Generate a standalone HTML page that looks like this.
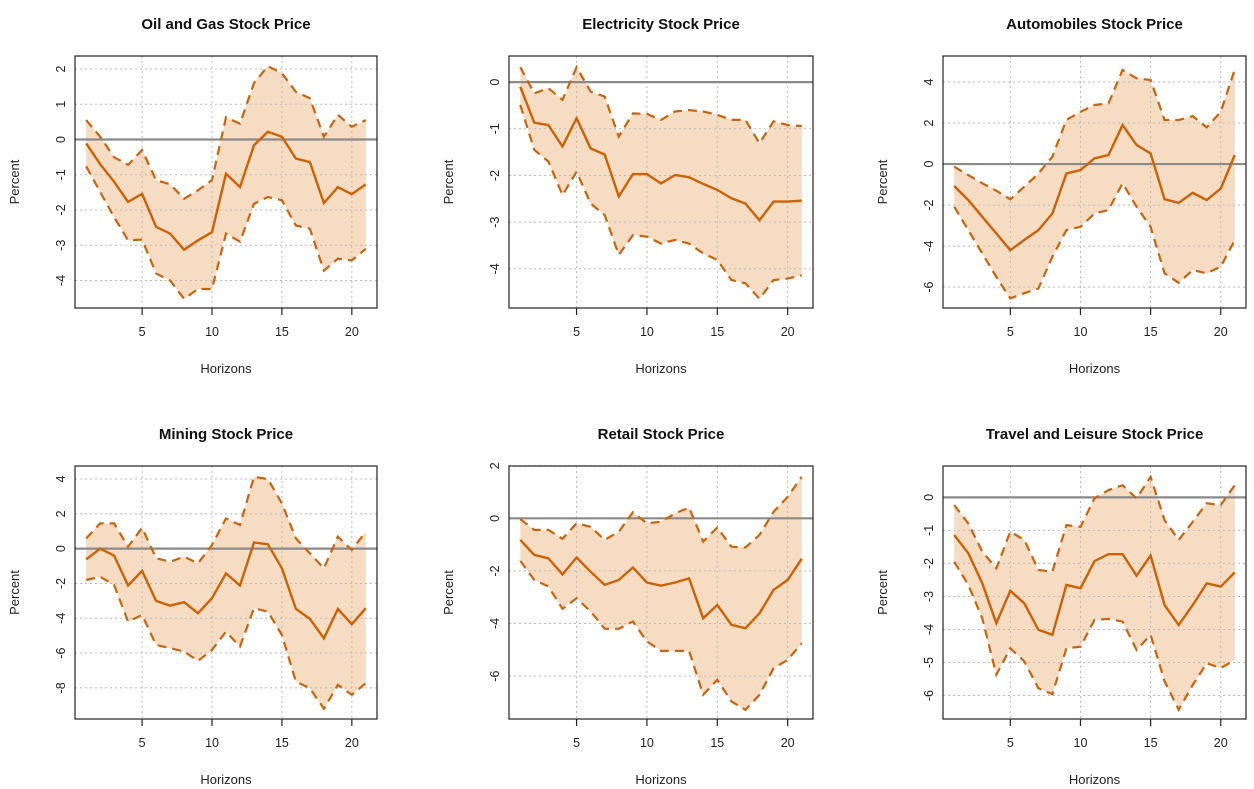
<!DOCTYPE html>
<html><head><meta charset="utf-8">
<style>
html,body{margin:0;padding:0;background:#fff;}
svg{display:block;font-family:"Liberation Sans",Arial,sans-serif;}
</style></head>
<body>
<svg id="chart" width="1254" height="789" viewBox="0 0 1254 789" xmlns="http://www.w3.org/2000/svg"></svg>
<script>
const horizons = [1,2,3,4,5,6,7,8,9,10,11,12,13,14,15,16,17,18,19,20,21];
const xTicks = [5,10,15,20];
const titles = ["Oil and Gas Stock Price","Electricity Stock Price","Automobiles Stock Price","Mining Stock Price","Retail Stock Price","Travel and Leisure Stock Price"];
const oilMid = [-0.11,-0.7,-1.2,-1.77,-1.54,-2.48,-2.67,-3.13,-2.86,-2.63,-0.97,-1.35,-0.16,0.22,0.08,-0.54,-0.64,-1.8,-1.35,-1.55,-1.27];
const oilUp = [0.55,0.08,-0.5,-0.72,-0.3,-1.15,-1.27,-1.68,-1.44,-1.15,0.63,0.45,1.6,2.08,1.88,1.35,1.17,0.08,0.7,0.36,0.55];
const oilLo = [-0.76,-1.49,-2.2,-2.86,-2.84,-3.8,-4.0,-4.52,-4.24,-4.24,-2.67,-2.9,-1.82,-1.63,-1.72,-2.44,-2.53,-3.72,-3.38,-3.43,-3.1];
const elecMid = [-0.1,-0.87,-0.92,-1.38,-0.77,-1.42,-1.55,-2.45,-1.97,-1.97,-2.17,-1.99,-2.04,-2.18,-2.31,-2.49,-2.6,-2.96,-2.56,-2.56,-2.54];
const elecUp = [0.32,-0.24,-0.13,-0.38,0.32,-0.2,-0.31,-1.17,-0.67,-0.68,-0.81,-0.63,-0.6,-0.63,-0.7,-0.81,-0.81,-1.31,-0.84,-0.92,-0.94];
const elecLo = [-0.49,-1.45,-1.7,-2.42,-1.92,-2.6,-2.85,-3.7,-3.28,-3.31,-3.46,-3.38,-3.46,-3.67,-3.81,-4.24,-4.31,-4.64,-4.24,-4.21,-4.14];
const autoMid = [-1.07,-1.76,-2.57,-3.38,-4.2,-3.7,-3.22,-2.41,-0.46,-0.29,0.28,0.44,1.9,0.93,0.52,-1.72,-1.89,-1.4,-1.76,-1.19,0.44];
const autoUp = [-0.13,-0.54,-0.94,-1.3,-1.72,-1.1,-0.46,0.36,2.15,2.55,2.88,2.96,4.59,4.18,4.1,2.15,2.15,2.34,1.79,2.55,4.62];
const autoLo = [-2.08,-3.22,-4.36,-5.5,-6.55,-6.3,-6.07,-4.52,-3.22,-3.06,-2.41,-2.24,-0.94,-2.08,-3.06,-5.33,-5.79,-5.17,-5.33,-5.0,-3.71];
const minMid = [-0.61,0,-0.4,-2.12,-1.28,-3.0,-3.27,-3.08,-3.71,-2.85,-1.42,-2.12,0.36,0.25,-1.13,-3.46,-4.04,-5.15,-3.46,-4.34,-3.42];
const minUp = [0.59,1.45,1.45,0.11,1.2,-0.55,-0.75,-0.46,-0.84,0.21,1.74,1.36,4.13,4.0,2.6,0.59,-0.27,-1.13,0.69,-0.08,0.98];
const minLo = [-1.8,-1.61,-2.09,-4.19,-3.81,-5.53,-5.72,-5.91,-6.45,-5.82,-4.77,-5.63,-3.42,-3.62,-4.96,-7.64,-8.02,-9.2,-7.83,-8.4,-7.73];
const retMid = [-0.82,-1.39,-1.52,-2.13,-1.49,-2.03,-2.53,-2.34,-1.87,-2.44,-2.56,-2.44,-2.28,-3.8,-3.29,-4.05,-4.18,-3.61,-2.72,-2.34,-1.54];
const retUp = [-0.03,-0.44,-0.44,-0.78,-0.19,-0.32,-0.82,-0.51,0.23,-0.19,-0.13,0.19,0.41,-0.89,-0.35,-1.08,-1.11,-0.63,0.25,0.82,1.58];
const retLo = [-1.62,-2.34,-2.59,-3.44,-3.04,-3.54,-4.2,-4.2,-3.92,-4.68,-5.04,-5.04,-5.04,-6.71,-6.14,-6.96,-7.28,-6.71,-5.7,-5.38,-4.75];
const travMid = [-1.14,-1.69,-2.6,-3.81,-2.83,-3.21,-4.01,-4.16,-2.65,-2.75,-1.93,-1.72,-1.72,-2.37,-1.76,-3.26,-3.86,-3.26,-2.6,-2.7,-2.27];
const travUp = [-0.23,-0.79,-1.64,-2.15,-1.04,-1.29,-2.2,-2.25,-0.84,-0.89,-0.03,0.22,0.37,-0.03,0.62,-0.69,-1.29,-0.74,-0.18,-0.23,0.37];
const travLo = [-1.95,-2.65,-3.66,-5.37,-4.57,-4.97,-5.78,-5.96,-4.57,-4.52,-3.71,-3.68,-3.76,-4.62,-4.16,-5.57,-6.43,-5.68,-5.02,-5.17,-4.92];
const yTicks1 = [-4,-3,-2,-1,0,1,2];
const yTicks2 = [-4,-3,-2,-1,0];
const yTicks3 = [-6,-4,-2,0,2,4];
const yTicks4 = [-8,-6,-4,-2,0,2,4];
const yTicks5 = [-6,-4,-2,0,2];
const yTicks6 = [-6,-5,-4,-3,-2,-1,0];
const yRanges = [[-4.78,2.37],[-4.84,0.56],[-7.02,5.27],[-9.79,4.75],[-7.63,1.99],[-6.71,0.95]];

const boxes = [
 {l:75,r:377,t:56,b:308},{l:509,r:813,t:56,b:308},{l:943,r:1246,t:56,b:308},
 {l:75,r:377,t:466,b:719},{l:509,r:813,t:466,b:719},{l:943,r:1246,t:466,b:719}];
const panels = [
 [oilMid,oilUp,oilLo,yTicks1],[elecMid,elecUp,elecLo,yTicks2],[autoMid,autoUp,autoLo,yTicks3],
 [minMid,minUp,minLo,yTicks4],[retMid,retUp,retLo,yTicks5],[travMid,travUp,travLo,yTicks6]];
const NS="http://www.w3.org/2000/svg";
const svg=document.getElementById('chart');
function mk(tag,attrs,parent,text){const e=document.createElementNS(NS,tag);for(const k in attrs)e.setAttribute(k,attrs[k]);if(text!==undefined)e.textContent=text;parent.appendChild(e);return e;}
const slugs=["oil-gas","electricity","automobiles","mining","retail","travel-leisure"];
panels.forEach((p,i)=>{
  const [mid,up,lo,yt]=p; const bx=boxes[i]; const [ymin,ymax]=yRanges[i];
  const xs=v=>bx.l+(v-0.2)/(21.6)*(bx.r-bx.l);
  const ys=v=>bx.b-(v-ymin)/(ymax-ymin)*(bx.b-bx.t);
  const g=mk('g',{},svg);
  
  
  let d='M'+horizons.map((h,k)=>xs(h).toFixed(1)+','+ys(up[k]).toFixed(1)).join('L');
  d+='L'+horizons.slice().reverse().map((h,k)=>{const j=horizons.length-1-k;return xs(h).toFixed(1)+','+ys(lo[j]).toFixed(1);}).join('L')+'Z';
  const band=mk('path',{d:d,fill:'#f7dcc4',stroke:'none'},g);
  
  
  xTicks.forEach(t=>{const gl=mk('line',{x1:xs(t),x2:xs(t),y1:bx.t,y2:bx.b,stroke:'#bbb','stroke-width':1,'stroke-dasharray':'2,3'},g);
    
    });
  yt.forEach(t=>{const gl=mk('line',{x1:bx.l,x2:bx.r,y1:ys(t),y2:ys(t),stroke:'#bbb','stroke-width':1,'stroke-dasharray':'2,3'},g);
    
    });
  const z=mk('line',{x1:bx.l,x2:bx.r,y1:ys(0),y2:ys(0),stroke:'#8a8a8a','stroke-width':2.2},g);
  
  
  const pts=a=>horizons.map((h,k)=>xs(h).toFixed(1)+','+ys(a[k]).toFixed(1)).join(' ');
  const u=mk('polyline',{points:pts(up),fill:'none',stroke:'#c7650f','stroke-width':2.2,'stroke-dasharray':'9,6'},g);
  
  
  const l=mk('polyline',{points:pts(lo),fill:'none',stroke:'#c7650f','stroke-width':2.2,'stroke-dasharray':'9,6'},g);
  
  
  const m=mk('polyline',{points:pts(mid),fill:'none',stroke:'#cc6204','stroke-width':2.4},g);
  
  
  const rb=mk('rect',{x:bx.l,y:bx.t,width:bx.r-bx.l,height:bx.b-bx.t,fill:'none',stroke:'#222','stroke-width':1.2},g);
  
  
  xTicks.forEach(t=>{mk('line',{x1:xs(t),x2:xs(t),y1:bx.b,y2:bx.b+7,stroke:'#222','stroke-width':1.2},g);
    const tl=mk('text',{x:xs(t),y:bx.b+28,'text-anchor':'middle','font-size':12.5,fill:'#222'},g,String(t));
    
    });
  yt.forEach(t=>{
    const tx=bx.l-10, ty=ys(t);
    const tl=mk('text',{x:tx,y:ty,'text-anchor':'middle','font-size':12.5,fill:'#222',transform:`rotate(-90 ${tx} ${ty})`},g,String(t));
    
    });
  const cx=(bx.l+bx.r)/2, cy=(bx.t+bx.b)/2;
  const tt=mk('text',{x:cx,y:bx.t-27,'text-anchor':'middle','font-size':15,'font-weight':'bold',fill:'#111'},g,titles[i]);
  
  
  const xl=mk('text',{x:cx,y:bx.b+65,'text-anchor':'middle','font-size':13,fill:'#222'},g,'Horizons');
  
  
  const px=bx.l-56;
  const yl=mk('text',{x:px,y:cy,'text-anchor':'middle','font-size':13,fill:'#222',transform:`rotate(-90 ${px} ${cy})`},g,'Percent');
  
  
});
</script>
</body></html>
